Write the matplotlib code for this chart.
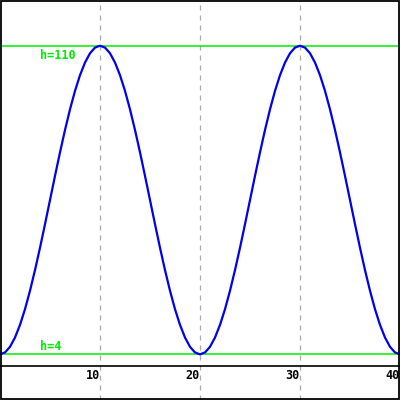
import matplotlib
matplotlib.use("Agg")
import matplotlib.pyplot as plt
from matplotlib.patches import Rectangle

# data (half-unit sampling)
half_period = [4.0, 4.65, 6.59, 9.78, 14.12, 19.52, 25.85, 32.94, 40.62, 48.71,
               57.0, 65.29, 73.38, 81.06, 88.15, 94.48, 99.88, 104.22, 107.41, 109.35,
               110.0]
rise = half_period
fall = half_period[::-1][1:]
h_values = rise + fall + rise[1:] + fall
x_values = [i * 0.5 for i in range(len(h_values))]
x_ticks = [10, 20, 30, 40]
x_tick_labels = ["10", "20", "30", "40"]
h_max = 110
h_min = 4

W, H = 400, 400
fig = plt.figure(figsize=(4, 4), dpi=100)
fig.patch.set_facecolor("white")
ax = fig.add_axes([0, 34 / H, 1, 366 / H])
ax.set_xlim(0, 40)
ax.set_ylim(0, 125.7)
ax.set_facecolor("white")

for s in ["left", "right", "top"]:
    ax.spines[s].set_visible(False)
ax.spines["bottom"].set_color("black")
ax.spines["bottom"].set_linewidth(1.2)

mono = "DejaVu Sans Mono"
ax.set_yticks([])
ax.set_xticks(x_ticks)
ax.set_xticklabels(x_tick_labels, fontfamily=mono, fontweight="bold", fontsize=8.5)
ax.tick_params(axis="x", length=0, pad=2.5)
for lab in ax.get_xticklabels():
    lab.set_horizontalalignment("right")

for xt in x_ticks[:-1]:
    ax.axvline(xt, ymin=-34 / 366, ymax=1, color="#aaaaaa", lw=0.9,
               linestyle=(0, (4, 4)), clip_on=False, zorder=1)

ax.axhline(h_max, color="#00ee00", lw=1.1, zorder=2)
ax.axhline(h_min, color="#00ee00", lw=1.1, zorder=2)
ax.text(4.0, h_max - 1.0, f"h={h_max}", color="#00ee00", fontfamily=mono,
        fontweight="bold", fontsize=8.5, va="top", ha="left")
ax.text(4.0, h_min + 0.6, f"h={h_min}", color="#00ee00", fontfamily=mono,
        fontweight="bold", fontsize=8.5, va="bottom", ha="left")

ax.plot(x_values, h_values, color="#0000ee", lw=1.6, zorder=3, clip_on=False)

fig.add_artist(Rectangle((0.75 / W, 0.75 / H), 1 - 1.5 / W, 1 - 1.5 / H, transform=fig.transFigure,
                         fill=False, edgecolor="black", lw=1.3, zorder=10))

fig.savefig("out.png", dpi=100)
